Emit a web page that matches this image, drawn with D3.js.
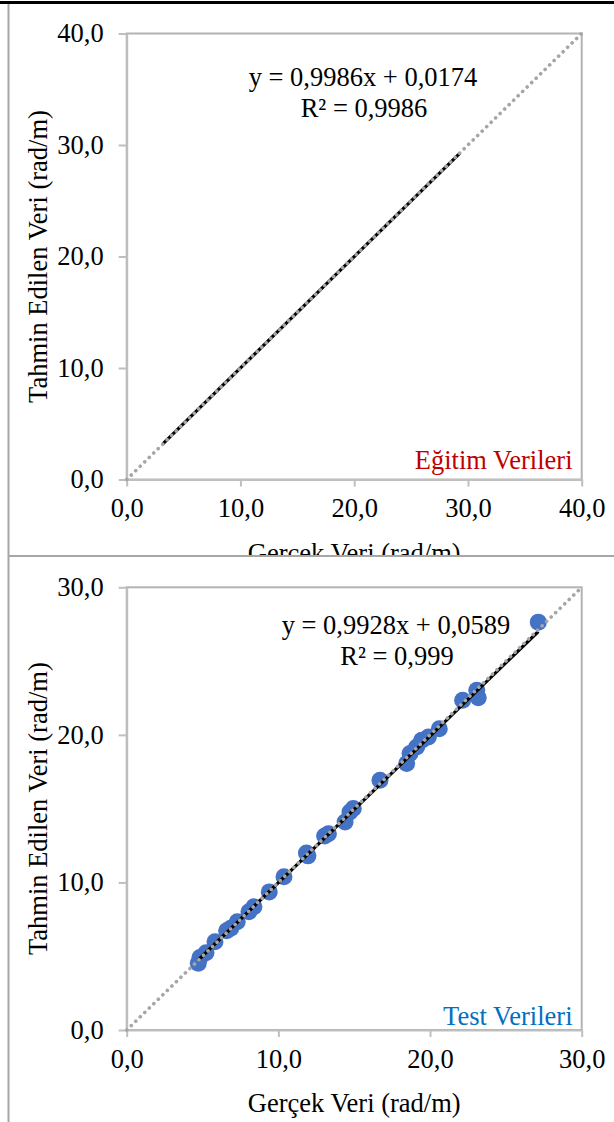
<!DOCTYPE html>
<html>
<head>
<meta charset="utf-8">
<script src="https://cdn.jsdelivr.net/npm/d3@7/dist/d3.min.js"></script>
<style>
  html, body { margin: 0; padding: 0; background: #fff; }
  svg { display: block; }
  text { font-family: "Liberation Serif", "Times New Roman", serif; }
</style>
</head>
<body>
<svg id="chart" width="614" height="1122"></svg>
<script>
// ---------- data ----------
const topTicks = [0, 10, 20, 30, 40];
const bottomTicks = [0, 10, 20, 30];

// training set: fitted trendline over the observed range
const trainFit = [0.9986, 0.0174];
const trainRange = [3.2, 29.3];
const trainEquation = "y = 0,9986x + 0,0174";
const trainR2 = "R² = 0,9986";
const trainLabel = "Eğitim Verileri";

// test set points
const testX = [4.72, 4.83, 5.23, 5.82, 6.59, 6.86, 7.29, 8.06, 8.39, 9.40, 10.37, 11.85, 11.95, 13.05, 13.30, 14.40, 14.72, 14.94, 16.70, 18.46, 18.68, 19.12, 19.45, 19.89, 20.61, 22.15, 23.08, 23.18, 27.14];
const testY = [4.52, 4.92, 5.23, 5.98, 6.72, 6.89, 7.33, 8.01, 8.35, 9.36, 10.38, 12.00, 11.80, 13.15, 13.30, 14.10, 14.78, 15.01, 16.93, 18.06, 18.73, 19.18, 19.63, 19.86, 20.42, 22.34, 23.02, 22.52, 27.64];
const testFit = [0.9928, 0.0589];
const testEquation = "y = 0,9928x + 0,0589";
const testR2 = "R² = 0,999";
const testLabel = "Test Verileri";

const xTitle = "Gerçek Veri (rad/m)";
const yTitle = "Tahmin Edilen Veri (rad/m)";

// ---------- drawing ----------
const svg = d3.select("#chart");
const FS = 26.5;
const fmt = v => d3.format(".1f")(v).replace(".", ",");

svg.append("defs").append("clipPath").attr("id", "clipTop")
  .append("rect").attr("x", 0).attr("y", 0).attr("width", 614).attr("height", 555);

// panel frame lines
svg.append("line").attr("x1", 0).attr("x2", 614).attr("y1", 2.5).attr("y2", 2.5)
  .attr("stroke", "#000").attr("stroke-width", 3);
svg.append("line").attr("x1", 8.5).attr("x2", 8.5).attr("y1", 4).attr("y2", 1122)
  .attr("stroke", "#A6A6A6").attr("stroke-width", 2);
svg.append("line").attr("x1", 8).attr("x2", 614).attr("y1", 556).attr("y2", 556)
  .attr("stroke", "#A6A6A6").attr("stroke-width", 2);

function panel(cfg) {
  const g = svg.append("g");
  if (cfg.clip) g.attr("clip-path", "url(#" + cfg.clip + ")");
  const x = d3.scaleLinear().domain(cfg.domain).range([126.7, 581.7]);
  const y = d3.scaleLinear().domain(cfg.domain).range([cfg.yBottom, cfg.yTop]);

  // plot-area border
  g.append("rect")
    .attr("x", x(cfg.domain[0])).attr("y", y(cfg.domain[1]))
    .attr("width", x(cfg.domain[1]) - x(cfg.domain[0]))
    .attr("height", y(cfg.domain[0]) - y(cfg.domain[1]))
    .attr("fill", "none").attr("stroke", "#B3B3B3").attr("stroke-width", 2);

  // axes
  const ax = g.append("g").attr("transform", `translate(0,${y(0)})`)
    .call(d3.axisBottom(x).tickValues(cfg.ticks).tickFormat(fmt).tickSize(7).tickSizeOuter(0).tickPadding(12));
  const ay = g.append("g").attr("transform", `translate(${x(0)},0)`)
    .call(d3.axisLeft(y).tickValues(cfg.ticks).tickFormat(fmt).tickSize(8).tickSizeOuter(0).tickPadding(15));
  [ax, ay].forEach(a => {
    a.select(".domain").attr("stroke", "#BFBFBF").attr("stroke-width", 2);
    a.selectAll(".tick line").attr("stroke", "#BFBFBF").attr("stroke-width", 2);
    a.selectAll(".tick text").attr("fill", "#000").style("font-size", FS + "px")
      .style("font-family", '"Liberation Serif", "Times New Roman", serif');
  });

  // points
  if (cfg.px) {
    g.append("g").selectAll("circle").data(d3.range(cfg.px.length)).join("circle")
      .attr("cx", i => x(cfg.px[i])).attr("cy", i => y(cfg.py[i])).attr("r", 8.5)
      .attr("fill", "#4472C4");
  }

  // trendline (solid black)
  const tr = cfg.range;
  g.append("line")
    .attr("x1", x(tr[0])).attr("y1", y(cfg.fit[0] * tr[0] + cfg.fit[1]))
    .attr("x2", x(tr[1])).attr("y2", y(cfg.fit[0] * tr[1] + cfg.fit[1]))
    .attr("stroke", "#000").attr("stroke-width", 3.2);

  // y = x reference (grey round dots)
  g.append("line")
    .attr("x1", x(cfg.domain[0])).attr("y1", y(cfg.domain[0]))
    .attr("x2", x(cfg.domain[1])).attr("y2", y(cfg.domain[1]))
    .attr("stroke", "#A6A6A6").attr("stroke-width", 3.6)
    .attr("stroke-linecap", "round").attr("stroke-dasharray", "0.1,6.2");

  // equation
  g.append("text").attr("x", cfg.eqX).attr("y", cfg.eqY).attr("text-anchor", "middle")
    .style("font-size", FS + "px").attr("fill", "#000").text(cfg.eq);
  g.append("text").attr("x", cfg.eqX + 1).attr("y", cfg.eqY + 31).attr("text-anchor", "middle")
    .style("font-size", FS + "px").attr("fill", "#000").text(cfg.r2);

  // series label
  g.append("text").attr("x", 572.5).attr("y", cfg.labelY).attr("text-anchor", "end")
    .style("font-size", FS + "px").attr("fill", cfg.labelColor).text(cfg.label);

  // axis titles
  g.append("text").attr("x", (x.range()[0] + x.range()[1]) / 2).attr("y", y(0) + 82)
    .attr("text-anchor", "middle").style("font-size", FS + "px").attr("fill", "#000").text(xTitle);
  const cy = (y.range()[0] + y.range()[1]) / 2;
  g.append("text").attr("transform", `translate(47,${cy}) rotate(-90)`)
    .attr("text-anchor", "middle").style("font-size", FS + "px").attr("fill", "#000").text(yTitle);
}

panel({
  domain: [0, 40], ticks: topTicks, yTop: 33.5, yBottom: 479.5,
  fit: trainFit, range: trainRange, eq: trainEquation, r2: trainR2,
  eqX: 363, eqY: 86, label: trainLabel, labelColor: "#C00000", labelY: 469, clip: "clipTop"
});

panel({
  domain: [0, 30], ticks: bottomTicks, yTop: 587.3, yBottom: 1030,
  px: testX, py: testY,
  fit: testFit, range: [d3.min(testX), d3.max(testX)], eq: testEquation, r2: testR2,
  eqX: 396, eqY: 634, label: testLabel, labelColor: "#0070C0", labelY: 1025
});
</script>
</body>
</html>
